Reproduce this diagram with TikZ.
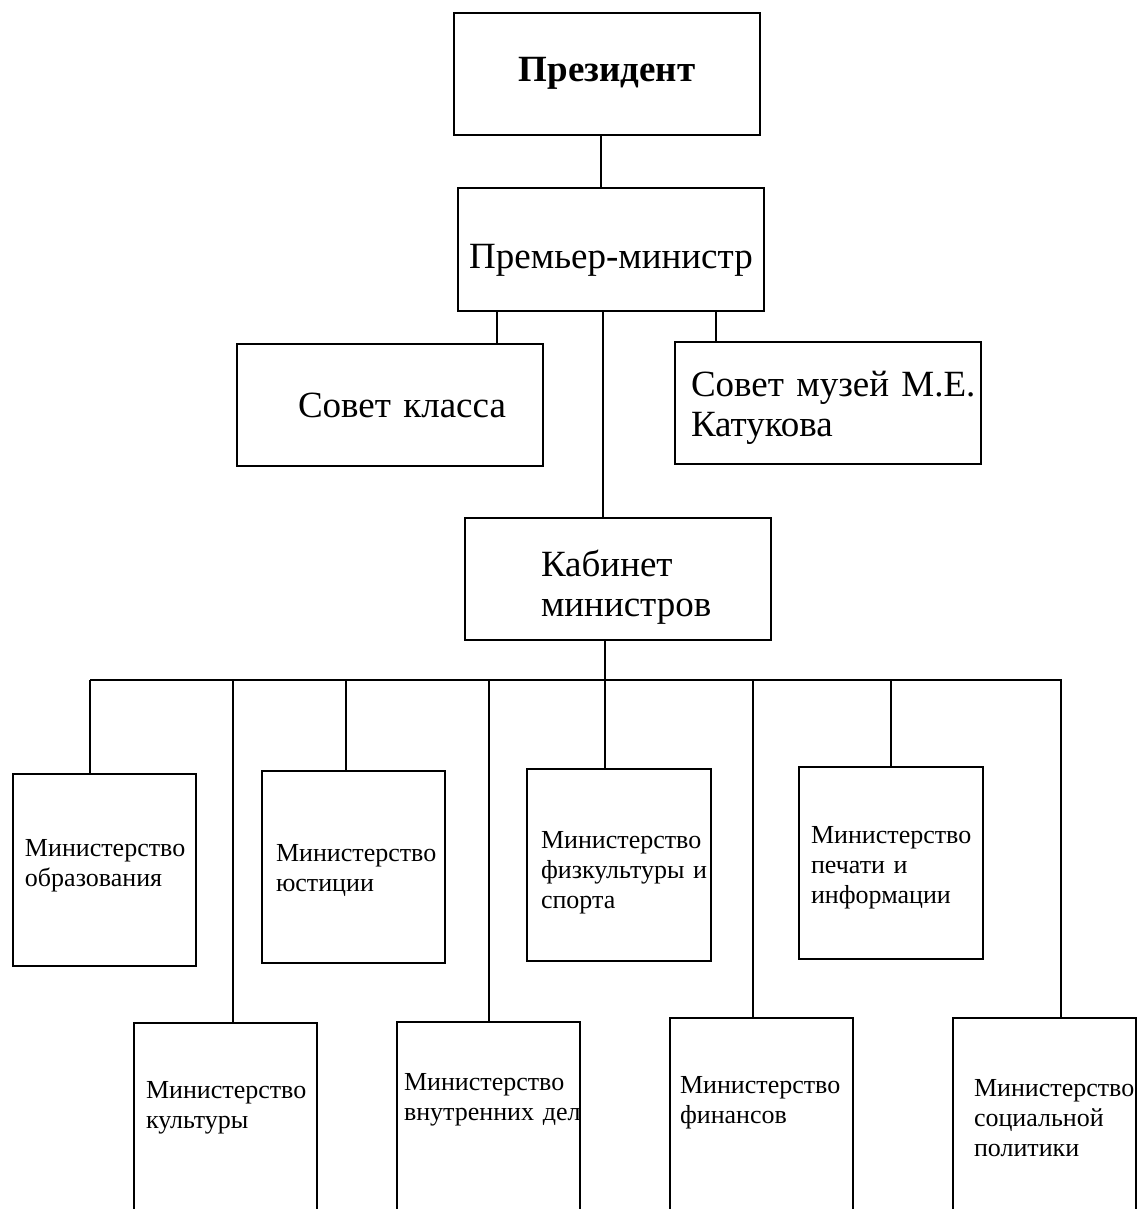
\documentclass[tikz,border=0pt]{standalone}
\usepackage{fontspec}
\setmainfont{Liberation Serif}[WordSpace=0.7]
\usetikzlibrary{positioning}

\begin{document}
\begin{tikzpicture}[x=0.5pt,y=-0.5pt,line width=1pt,
    base node/.style={draw,anchor=north west,inner ysep=0pt,align=left},
    unit node/.style={base node,font=\fontsize{18.5}{20}\selectfont},
    min node/.style={base node,font=\fontsize{13}{15}\selectfont}]

\useasboundingbox (0,0) rectangle (1137,1209);
\clip (0,0) rectangle (1137,1209);

\node[unit node,inner xsep=0pt,align=center,text width=153pt,text height=34.5pt,text depth=26.5pt] (pres) at (453,12) {\textbf{Президент}};
\node[unit node,inner xsep=0pt,align=center,text width=153pt,text height=40.5pt,text depth=21pt] (pm) at (457,187) {Премьер-министр};
\node[unit node,inner xsep=30.5pt,text width=92pt,text height=36.5pt,text depth=24.5pt] (sk) at (236,343) {\mbox{Совет класса}};
\node[unit node,inner xsep=8pt,text width=137pt,text height=27pt,text depth=34pt] (muz) at (674,341) {\mbox{Совет музей М.Е.}\\Катукова};
\node[unit node,inner xsep=38pt,text width=77pt,text height=29pt,text depth=32pt] (kab) at (464,517) {Кабинет\\министров};

\node[min node,inner xsep=6pt,text width=79.5pt,text height=41pt,text depth=55pt] (obr) at (12,773) {Министерство\\образования};
\node[min node,inner xsep=7pt,text width=77.5pt,text height=45pt,text depth=51pt] (yust) at (261,770) {Министерство\\юстиции};
\node[min node,inner xsep=7pt,text width=78pt,text height=39.5pt,text depth=56.5pt] (fiz) at (526,768) {Министерство\\\mbox{физкультуры и}\\спорта};
\node[min node,inner xsep=6pt,text width=80pt,text height=38pt,text depth=58pt] (pech) at (798,766) {Министерство\\\mbox{печати и}\\информации};

\node[min node,inner xsep=6pt,text width=79.5pt,text height=37.5pt,text depth=100pt] (kult) at (133,1022) {Министерство\\культуры};
\node[min node,inner xsep=3.5pt,text width=84.5pt,text height=34pt,text depth=100pt] (vd) at (396,1021) {Министерство\\\mbox{внутренних дел}};
\node[min node,inner xsep=5pt,text width=81.5pt,text height=37.5pt,text depth=100pt] (fin) at (669,1017) {Министерство\\финансов};
\node[min node,inner xsep=10.5pt,text width=70.5pt,text height=39pt,text depth=100pt] (soc) at (952,1017) {Министерство\\социальной\\политики};

\coordinate (bus) at (605,680);
\coordinate (busL) at (90,680);
\coordinate (busR) at (1062,680);

\draw (601,0 |- pres.south) -- (601,0 |- pm.north);
\draw (497,0 |- pm.south) -- (497,0 |- sk.north);
\draw (716,0 |- pm.south) -- (716,0 |- muz.north);
\draw (603,0 |- pm.south) -- (603,0 |- kab.north);
\draw (605,0 |- kab.south) -- (bus);
\draw (busL) -- (busR);
\foreach \n/\x in {obr/90,kult/233,yust/346,vd/489,fiz/605,fin/753,pech/891,soc/1061}
  \draw (\x,0 |- bus) -- (\x,0 |- \n.north);
\end{tikzpicture}
\end{document}
